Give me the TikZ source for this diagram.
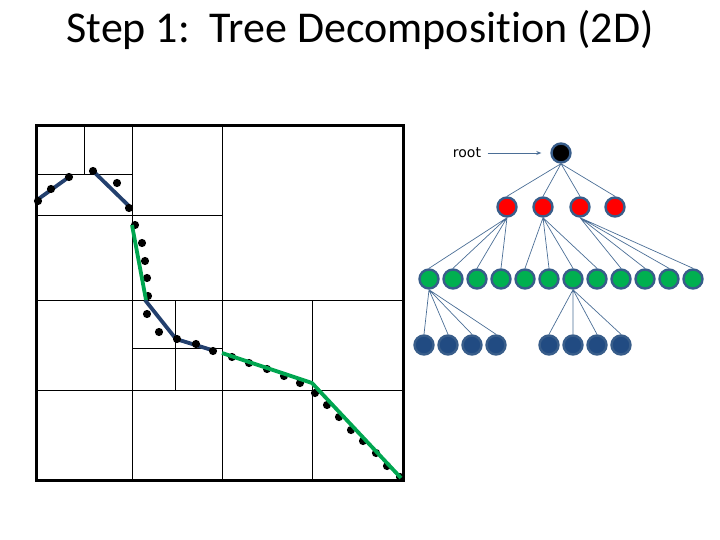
\documentclass[tikz,border=0pt]{standalone}
\usepackage{fontspec}
\setmainfont{Carlito}[Ligatures=NoCommon]
\newfontfamily\labelfont{DejaVu Sans}
\usepackage{tikz}
\usetikzlibrary{arrows.meta}
\definecolor{segblue}{RGB}{35,64,110}
\definecolor{seggreen}{RGB}{0,166,80}
\definecolor{ringblue}{RGB}{56,93,138}
\definecolor{edgeblue}{RGB}{75,110,150}
\definecolor{leafblue}{RGB}{33,75,130}
\definecolor{midgreen}{RGB}{0,176,80}
\tikzset{tnode/.style={circle,draw=ringblue,line width=2.4pt,minimum size=19pt,inner sep=0pt},
         tedge/.style={draw=edgeblue,line width=0.7pt},
         pt/.style={fill=black}}

\begin{document}
\begin{tikzpicture}[x=1pt,y=-1pt]
\useasboundingbox (0,0) rectangle (720,540);
\node[anchor=base] (title) at (360,43) {\fontsize{44}{44}\selectfont Step 1:\ \ Tree Decomposition (2D)};
% quadtree cells
\draw (222,126)--(222,480);
\draw (36,300)--(403,300);
\draw (132,126)--(132,480);
\draw (36,215)--(222,215);
\draw (84,126)--(84,174);
\draw (36,174)--(132,174);
\draw (36,390)--(403,390);
\draw (312,300)--(312,480);
\draw (175,300)--(175,390);
\draw (132,348)--(222,348);
\draw[line width=3pt] (36,126) rectangle (403,480);
% segments and points
\draw[segblue,line width=3.8pt](37,200)--(69,177);
\draw[segblue,line width=3.8pt](93,171)--(130,207);
\draw[segblue,line width=3.8pt](145,300)--(176,339)--(215,351);
\foreach \p in {(38,201),(51,189),(69,177),(93,171),(117,183),(129,208),
                (135,225),(142,243),(145,261),(147,278),(148,296),(147,314),
                (159,332),(177,339),(196,344),(213,351),(232,357),(249,363),
                (267,369),(284,376),(300,383),(315,393),(327,405),(339,417),
                (351,430),(363,441),(376,453),(387,466),(400,477)}
  \fill[pt] \p circle (4.1);
\draw[seggreen,line width=3.8pt](132,225)--(146,300);
\draw[seggreen,line width=3.8pt](222,353)--(312,383)--(401,478);
% tree
\node[tnode,fill=black] (root) at (561,153) {};
\node[font=\labelfont\fontsize{14}{14}\selectfont] (rootlbl) at (467,153) {root};
\draw[edgeblue,line width=0.9pt,-{Stealth[length=5pt,width=4pt]},shorten <=3pt,shorten >=9pt](rootlbl)--(root);
\node[tnode,fill=red] (r1) at (507,207) {};
\node[tnode,fill=red] (r2) at (543,207) {};
\node[tnode,fill=red] (r3) at (580,207) {};
\node[tnode,fill=red] (r4) at (615,207) {};
\node[tnode,fill=midgreen] (g1) at (429,279) {};
\node[tnode,fill=midgreen] (g2) at (453,279) {};
\node[tnode,fill=midgreen] (g3) at (477,279) {};
\node[tnode,fill=midgreen] (g4) at (501,279) {};
\node[tnode,fill=midgreen] (g5) at (525,279) {};
\node[tnode,fill=midgreen] (g6) at (549,279) {};
\node[tnode,fill=midgreen] (g7) at (573,279) {};
\node[tnode,fill=midgreen] (g8) at (597,279) {};
\node[tnode,fill=midgreen] (g9) at (621,279) {};
\node[tnode,fill=midgreen] (g10) at (645,279) {};
\node[tnode,fill=midgreen] (g11) at (669,279) {};
\node[tnode,fill=midgreen] (g12) at (693,279) {};
\node[tnode,fill=leafblue] (b1) at (424,345) {};
\node[tnode,fill=leafblue] (b2) at (448,345) {};
\node[tnode,fill=leafblue] (b3) at (472,345) {};
\node[tnode,fill=leafblue] (b4) at (496,345) {};
\node[tnode,fill=leafblue] (b5) at (549,345) {};
\node[tnode,fill=leafblue] (b6) at (573,345) {};
\node[tnode,fill=leafblue] (b7) at (597,345) {};
\node[tnode,fill=leafblue] (b8) at (621,345) {};
% edges
\draw[tedge] (root.south)--(r1.north) (root.south)--(r2.north)
             (root.south)--(r3.north) (root.south)--(r4.north);
\draw[tedge] (r1.south)--(g1.north) (r1.south)--(g2.north)
             (r1.south)--(g3.north) (r1.south)--(g4.north);
\draw[tedge] (r2.south)--(g5.north) (r2.south)--(g6.north)
             (r2.south)--(g7.north) (r2.south)--(g8.north);
\draw[tedge] (r3.south)--(g9.north) (r3.south)--(g10.north)
             (r3.south)--(g11.north) (r3.south)--(g12.north);
\draw[tedge] (g1.south)--(b1.north) (g1.south)--(b2.north)
             (g1.south)--(b3.north) (g1.south)--(b4.north);
\draw[tedge] (g7.south)--(b5.north) (g7.south)--(b6.north)
             (g7.south)--(b7.north) (g7.south)--(b8.north);
\end{tikzpicture}
\end{document}
